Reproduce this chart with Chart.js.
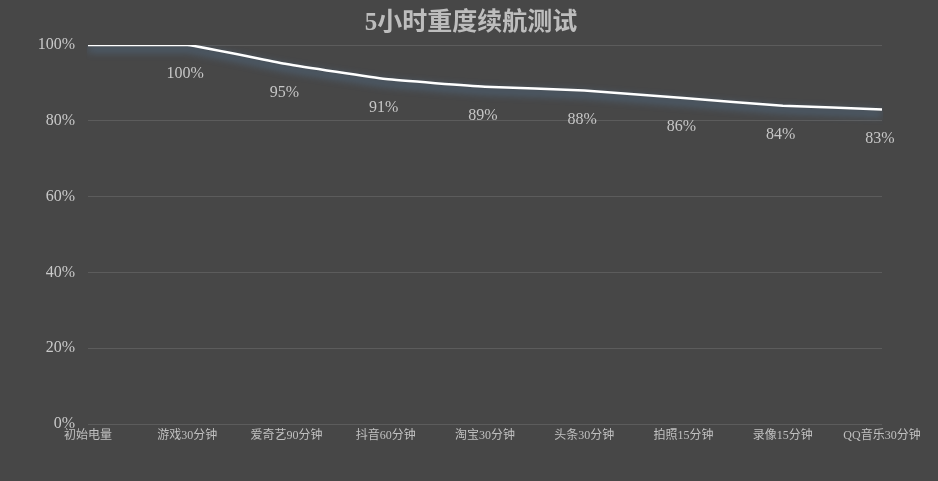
<!DOCTYPE html>
<html>
<head>
<meta charset="utf-8">
<script src="https://cdn.jsdelivr.net/npm/chart.js@4"></script>
<style>
  html, body { margin: 0; padding: 0; background: #474747; }
  #wrap { width: 938px; height: 481px; }
</style>
</head>
<body>
<div id="wrap"><canvas id="lineChart" width="938" height="481"></canvas></div>
<script>
// chart values
const categories = ["初始电量", "游戏30分钟", "爱奇艺90分钟", "抖音60分钟", "淘宝30分钟", "头条30分钟", "拍照15分钟", "录像15分钟", "QQ音乐30分钟"];
const battery = [100, 100, 95, 91, 89, 88, 86, 84, 83];
const showLabel = [false, true, true, true, true, true, true, true, true];
const yTicks = [0, 20, 40, 60, 80, 100];
const chartTitle = "5小时重度续航测试";

const serif = "'Liberation Serif', 'Noto Sans CJK SC', serif";

// soft blue glow under the line
const glowPlugin = {
  id: "glow",
  beforeDatasetDraw(chart) {
    const ctx = chart.ctx;
    ctx.save();
    ctx.shadowColor = "rgba(90, 140, 190, 0.9)";
    ctx.shadowBlur = 8;
    ctx.shadowOffsetY = 4;
  },
  afterDatasetDraw(chart) {
    chart.ctx.restore();
  }
};

// value labels under each point + title centred on the whole canvas
const labelPlugin = {
  id: "valueLabels",
  afterDatasetsDraw(chart) {
    const ctx = chart.ctx;
    const meta = chart.getDatasetMeta(0);
    ctx.save();
    ctx.font = "16px " + serif;
    ctx.fillStyle = "#c6c6c6";
    ctx.textAlign = "center";
    ctx.textBaseline = "middle";
    meta.data.forEach((pt, i) => {
      if (!showLabel[i]) return;
      ctx.fillText(battery[i] + "%", pt.x - 2, pt.y + 29);
    });
    ctx.font = "bold 25px " + serif;
    ctx.fillStyle = "#bdbdbd";
    ctx.fillText(chartTitle, chart.width / 2 + 2, 24);
    ctx.restore();
  }
};

new Chart(document.getElementById("lineChart"), {
  type: "line",
  data: {
    labels: categories,
    datasets: [{
      data: battery,
      borderColor: "#ffffff",
      borderWidth: 2.5,
      pointRadius: 0,
      tension: 0.12,
      fill: false
    }]
  },
  options: {
    responsive: false,
    animation: false,
    layout: { padding: { left: 0, right: 56, top: 45, bottom: 0 } },
    plugins: {
      legend: { display: false },
      tooltip: { enabled: false },
      title: { display: false }
    },
    scales: {
      x: {
        offset: false,
        grid: { display: false, drawTicks: false },
        border: { display: false },
        ticks: {
          color: "#c0c0c0",
          font: { family: serif, size: 12 },
          padding: 5,
          maxRotation: 0,
          autoSkip: false
        },
        afterFit(scale) { scale.height = 57; }
      },
      y: {
        min: 0,
        max: 100,
        afterBuildTicks(scale) { scale.ticks = yTicks.map(v => ({ value: v })); },
        grid: { color: "#5c5c5c", drawTicks: false, lineWidth: 1 },
        border: { display: false },
        ticks: {
          color: "#c9c9c9",
          font: { family: serif, size: 16 },
          padding: 13,
          callback: v => v + "%"
        },
        afterFit(scale) { scale.width = 88; }
      }
    }
  },
  plugins: [glowPlugin, labelPlugin]
});
</script>
</body>
</html>
